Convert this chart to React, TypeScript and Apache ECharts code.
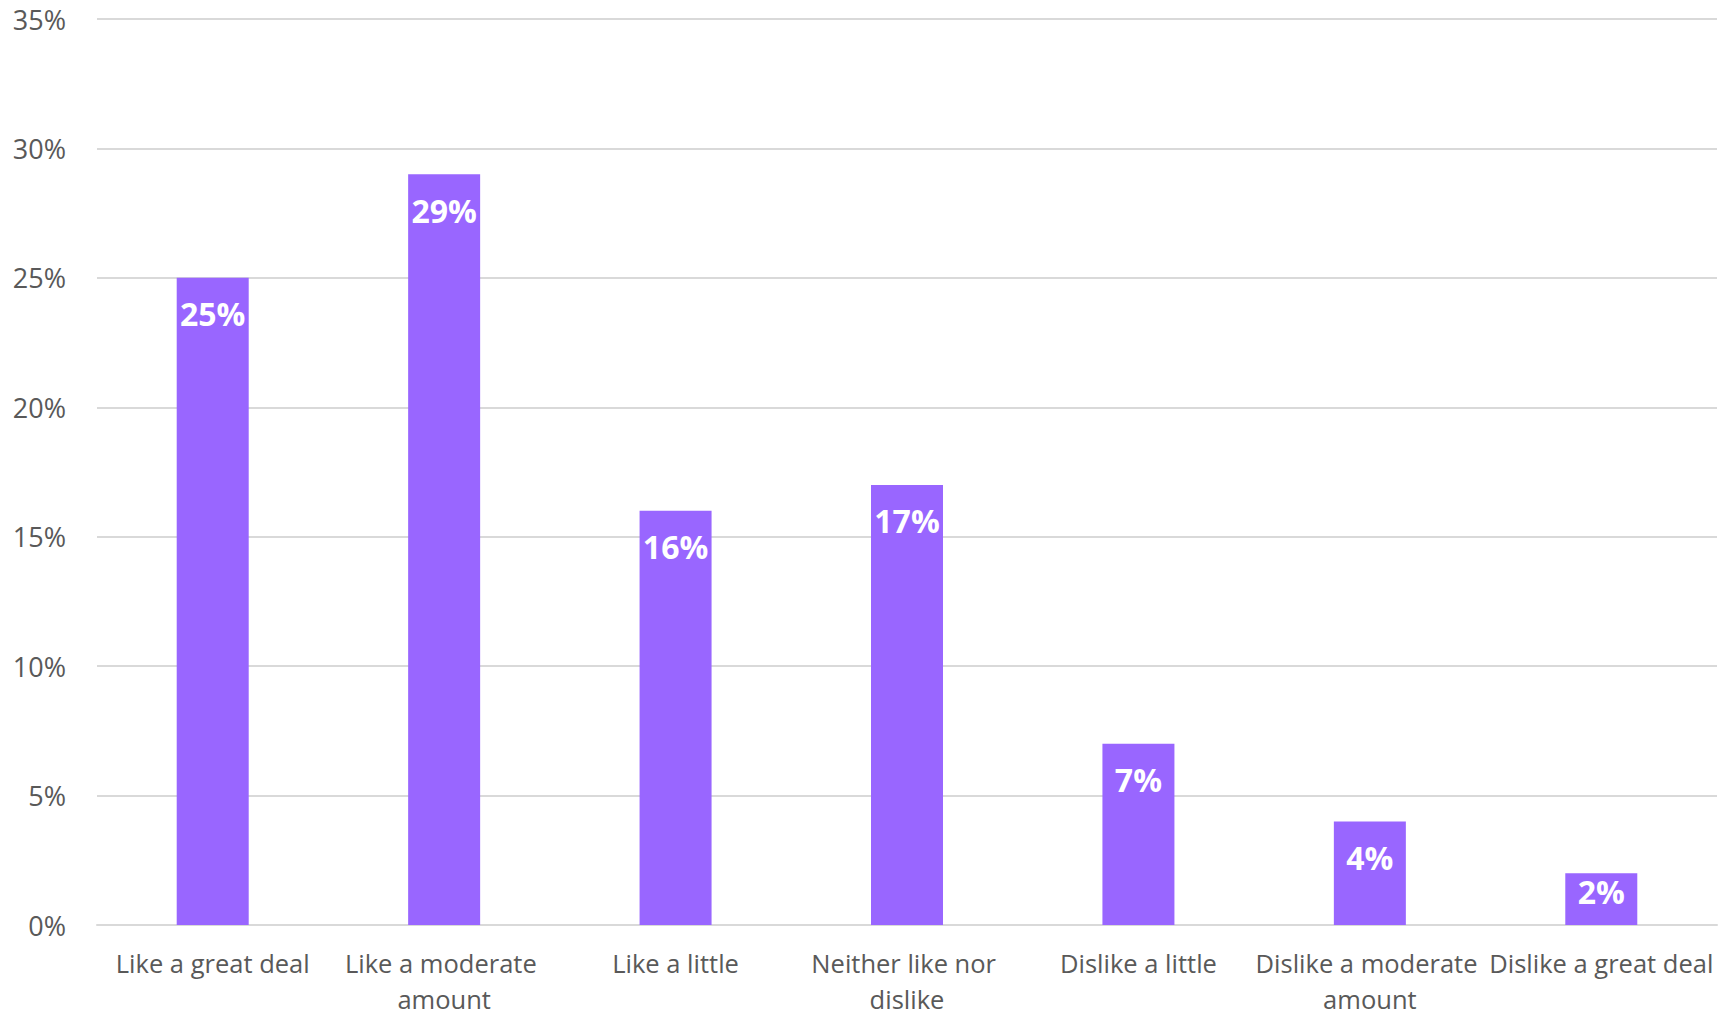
import React, { useEffect, useRef } from "react";
import * as echarts from "echarts";

const categories = [
  "Like a great deal",
  "Like a moderate amount",
  "Like a little",
  "Neither like nor dislike",
  "Dislike a little",
  "Dislike a moderate amount",
  "Dislike a great deal",
];
const values = [25, 29, 16, 17, 7, 4, 2];
const yMax = 35;
const yInterval = 5;

export default function App() {
  const ref = useRef<HTMLDivElement>(null);
  useEffect(() => {
    document.body.style.margin = "0";
    if (!ref.current) return;
    const chart = echarts.init(ref.current, null, { renderer: "svg" });
    const font = "'Open Sans', 'DejaVu Sans', sans-serif";
    chart.setOption({
      animation: false,
      backgroundColor: "#ffffff",
      grid: { left: 97, right: 18, top: 19, bottom: 84, containLabel: false },
      xAxis: {
        type: "category",
        data: categories,
        axisLine: { show: true, lineStyle: { color: "#d9d9d9", width: 2 } },
        axisTick: { show: false },
        axisLabel: {
          color: "#595959",
          fontSize: 25.5,
          fontFamily: font,
          margin: 20,
          lineHeight: 36,
          width: 231,
          overflow: "break",
          interval: 0,
        },
      },
      yAxis: {
        type: "value",
        min: 0,
        max: yMax,
        interval: yInterval,
        axisLine: { show: false },
        axisTick: { show: false },
        splitLine: { lineStyle: { color: "#d9d9d9", width: 2 } },
        axisLabel: {
          color: "#595959",
          fontSize: 27,
          fontFamily: font,
          margin: 31,
          formatter: "{value}%",
        },
      },
      series: [
        {
          type: "bar",
          barWidth: 72,
          itemStyle: { color: "#9966FF" },
          data: values.map((v) => ({
            value: v,
            label: { distance: v < 3 ? 2 : 20 },
          })),
          label: {
            show: true,
            position: "insideTop",
            color: "#ffffff",
            fontWeight: "bold",
            fontSize: 32,
            fontFamily: font,
            formatter: "{c}%",
          },
        },
      ],
    });
    return () => chart.dispose();
  }, []);
  return <div ref={ref} style={{ width: 1735, height: 1017 }} />;
}
